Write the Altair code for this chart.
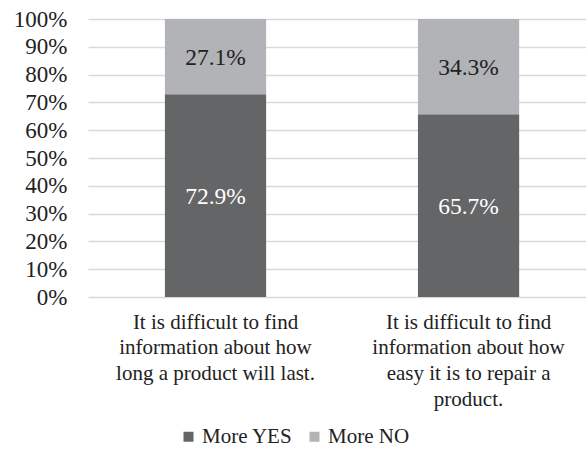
import altair as alt
import pandas as pd

categories = [
    "It is difficult to find\ninformation about how\nlong a product will last.",
    "It is difficult to find\ninformation about how\neasy it is to repair a\nproduct.",
]
series = ["More YES", "More NO"]
yes_values = [72.9, 65.7]
no_values = [27.1, 34.3]
colors = ["#646567", "#b2b3b6"]
text_colors = ["#ffffff", "#222222"]

rows = []
for i, c in enumerate(categories):
    rows.append({"cat": c, "series": "More YES", "val": yes_values[i], "order": 0})
    rows.append({"cat": c, "series": "More NO", "val": no_values[i], "order": 1})
df = pd.DataFrame(rows)

FONT = "Liberation Serif"

y_axis = alt.Axis(values=list(range(0, 101, 10)), labelExpr="datum.value + '%'",
                  labelFont=FONT, labelFontSize=23, labelColor="#222222",
                  labelOverlap=False, ticks=False, domain=False,
                  gridColor="#d9d9d9", gridWidth=1.5, labelPadding=21)
y_scale = alt.Scale(domain=[0, 100])

x_axis = alt.Axis(labelAngle=0, labelExpr="split(datum.label, '\\n')",
                  labelFont=FONT, labelFontSize=21, labelColor="#222222",
                  labelLineHeight=25.7, labelPadding=14, ticks=False,
                  domain=False, grid=False, labelLimit=300)
x_enc = alt.X("cat:N", sort=categories, title=None,
              scale=alt.Scale(paddingInner=0.6, paddingOuter=0.284, align=0.535),
              axis=x_axis)

bars = alt.Chart(df).mark_bar().encode(
    x=x_enc,
    y=alt.Y("sum(val):Q", stack="zero", scale=y_scale, title=None, axis=y_axis),
    color=alt.Color("series:N", sort=series,
                    scale=alt.Scale(domain=series, range=colors),
                    legend=alt.Legend(title=None, orient="none", direction="horizontal",
                                      legendX=90, legendY=407, symbolType="square",
                                      symbolSize=100, symbolStrokeWidth=0, labelFont=FONT,
                                      labelFontSize=21, labelColor="#222222",
                                      columnPadding=11, labelOffset=3)),
    order=alt.Order("order:Q"),
)

texts = alt.Chart(df).transform_stack(
    stack="val", groupby=["cat"], as_=["v0", "v1"], sort=[alt.SortField("order")]
).transform_calculate(
    mid="(datum.v0 + datum.v1) / 2",
    lab="format(datum.val, '.1f') + '%'"
).mark_text(font=FONT, fontSize=23.5, baseline="middle", dy=1).encode(
    x=x_enc,
    y=alt.Y("mid:Q", scale=y_scale, title=None, axis=y_axis),
    text="lab:N",
    color=alt.Color("series:N", scale=alt.Scale(domain=series, range=text_colors), legend=None),
)

chart = alt.layer(bars, texts).resolve_scale(color="independent").properties(
    width=498, height=278,
    padding={"left": 88, "top": 19, "right": 0, "bottom": 171},
    autosize=alt.AutoSizeParams(type="none"),
    background="white",
).configure_view(
    stroke="transparent", strokeWidth=0
).configure_axis(
    domain=False, ticks=False
).configure_axisX(
    grid=False, domain=False
).configure_axisBand(
    grid=False, domain=False
).configure_axisY(
    domain=False
)

chart.save("out.html", embed_options={"renderer": "svg", "actions": False})
